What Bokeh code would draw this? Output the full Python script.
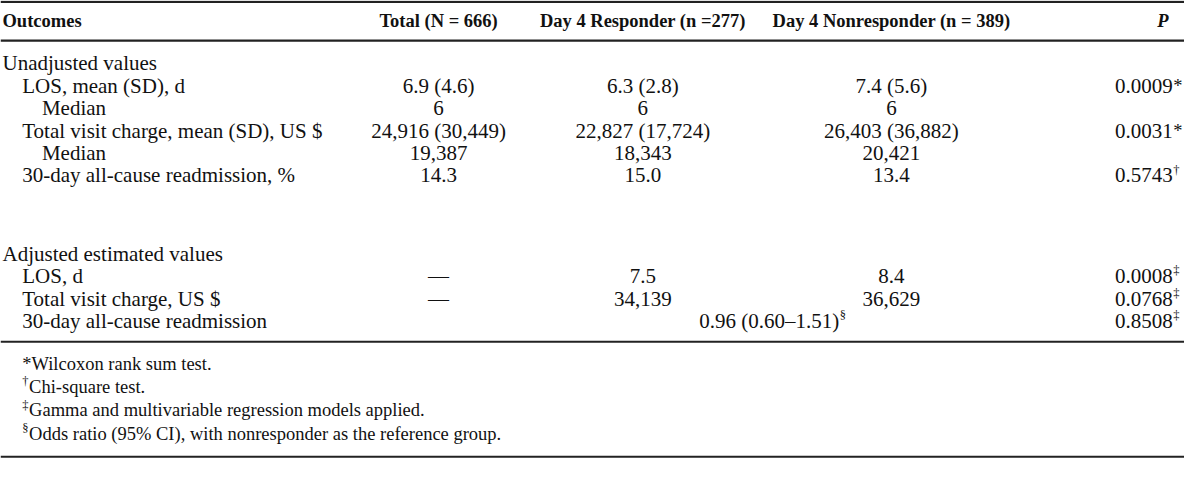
from bokeh.plotting import figure
from bokeh.models import Range1d
from bokeh.core.properties import value
from bokeh.embed import file_html
from bokeh.resources import INLINE

# ---------------- data ----------------
headers = ["Outcomes", "Total (N = 666)", "Day 4 Responder (n =277)", "Day 4 Nonresponder (n = 389)", "P"]
sections = ["Unadjusted values", "Adjusted estimated values"]

unadj_labels = ["LOS, mean (SD), d", "Median", "Total visit charge, mean (SD), US $", "Median",
                "30-day all-cause readmission, %"]
unadj_level = [1, 2, 1, 2, 1]
unadj_total = ["6.9 (4.6)", "6", "24,916 (30,449)", "19,387", "14.3"]
unadj_resp = ["6.3 (2.8)", "6", "22,827 (17,724)", "18,343", "15.0"]
unadj_nonresp = ["7.4 (5.6)", "6", "26,403 (36,882)", "20,421", "13.4"]
unadj_p = ["0.0009", "", "0.0031", "", "0.5743"]
unadj_p_mark = ["*", "", "*", "", "†"]

adj_labels = ["LOS, d", "Total visit charge, US $", "30-day all-cause readmission"]
adj_total = ["—", "—", ""]
adj_resp = ["7.5", "34,139", ""]
adj_nonresp = ["8.4", "36,629", ""]
adj_merged = ["", "", "0.96 (0.60–1.51)"]
adj_merged_mark = ["", "", "§"]
adj_p = ["0.0008", "0.0768", "0.8508"]
adj_p_mark = ["‡", "‡", "‡"]

footnote_marks = ["*", "†", "‡", "§"]
footnote_texts = ["Wilcoxon rank sum test.", "Chi-square test.",
                  "Gamma and multivariable regression models applied.",
                  "Odds ratio (95% CI), with nonresponder as the reference group."]

# ---------------- layout ----------------
W, H = 1200, 480
FONT = "Liberation Serif"
FS = "21px"
FS_HEAD = "18.5px"
FS_SUP = "12.5px"
FS_NOTE = "18.5px"
INK = "#111111"

x_section = 2
x_level = {1: 22, 2: 42}
x_cols = [444, 651, 903]
x_p_right = 1188
x_p_head = 1178
x_merged_right = 850

y_header = 21
y_unadj_sec = 65
row_h = 23.2
y_adj_sec = 262
y_foot0 = 376
foot_h = 24

p = figure(width=1184, height=464, output_backend="svg", toolbar_location=None,
           x_range=Range1d(0, W), y_range=Range1d(H, 0), min_border=0)
p.axis.visible = False
p.grid.visible = False
p.outline_line_color = None
p.background_fill_color = "white"
p.border_fill_color = "white"


def txt(xs, ys, texts, align="left", size=FS, style="normal", baseline="middle"):
    p.text(x=xs, y=ys, text=texts, text_font=value(FONT), text_font_size=size,
           text_font_style=style, text_align=align, text_baseline=baseline, text_color=INK)


# rules
for y0, lw in [(1.5, 2.2), (41.5, 2.2), (353, 1.8), (472, 2.2)]:
    p.line(x=[0, W], y=[y0, y0], line_color="#222222", line_width=lw)

# header
txt([2], [y_header], [headers[0]], size=FS_HEAD, style="bold")
txt(x_cols, [y_header] * 3, headers[1:4], align="center", size=FS_HEAD, style="bold")
txt([x_p_head], [y_header], [headers[4]], align="center", size=FS_HEAD, style="bold italic")

# section titles
txt([x_section, x_section], [y_unadj_sec, y_adj_sec], sections)

# unadjusted rows
ys_u = [y_unadj_sec + row_h * (i + 1) for i in range(len(unadj_labels))]
txt([x_level[l] for l in unadj_level], ys_u, unadj_labels)
txt([x_cols[0]] * 5, ys_u, unadj_total, align="center")
txt([x_cols[1]] * 5, ys_u, unadj_resp, align="center")
txt([x_cols[2]] * 5, ys_u, unadj_nonresp, align="center")
txt([x_p_right] * 5, ys_u, unadj_p, align="right")
for y, m in zip(ys_u, unadj_p_mark):
    if m == "*":
        txt([x_p_right + 0.5], [y], [m], size=FS_NOTE)
    elif m:
        txt([x_p_right + 0.5], [y - 6], [m], size=FS_SUP)

# adjusted rows
ys_a = [y_adj_sec + row_h * (i + 1) for i in range(len(adj_labels))]
txt([x_level[1]] * 3, ys_a, adj_labels)
txt([x_cols[0]] * 3, ys_a, adj_total, align="center")
txt([x_cols[1]] * 3, ys_a, adj_resp, align="center")
txt([x_cols[2]] * 3, ys_a, adj_nonresp, align="center")
txt([x_merged_right] * 3, ys_a, adj_merged, align="right")
txt([x_merged_right + 0.5] * 3, [y - 6 for y in ys_a], adj_merged_mark, size=FS_SUP)
txt([x_p_right] * 3, ys_a, adj_p, align="right")
txt([x_p_right + 0.5] * 3, [y - 6 for y in ys_a], adj_p_mark, size=FS_SUP)

# footnotes
ys_f = [y_foot0 + foot_h * i for i in range(len(footnote_texts))]
txt([22], [ys_f[0]], [footnote_marks[0] + footnote_texts[0]], size=FS_NOTE)
txt([22] * 3, [y - 6 for y in ys_f[1:]], footnote_marks[1:], size=FS_SUP)
txt([29] * 3, ys_f[1:], footnote_texts[1:], size=FS_NOTE)

open("out.html", "w").write(file_html(p, INLINE))
